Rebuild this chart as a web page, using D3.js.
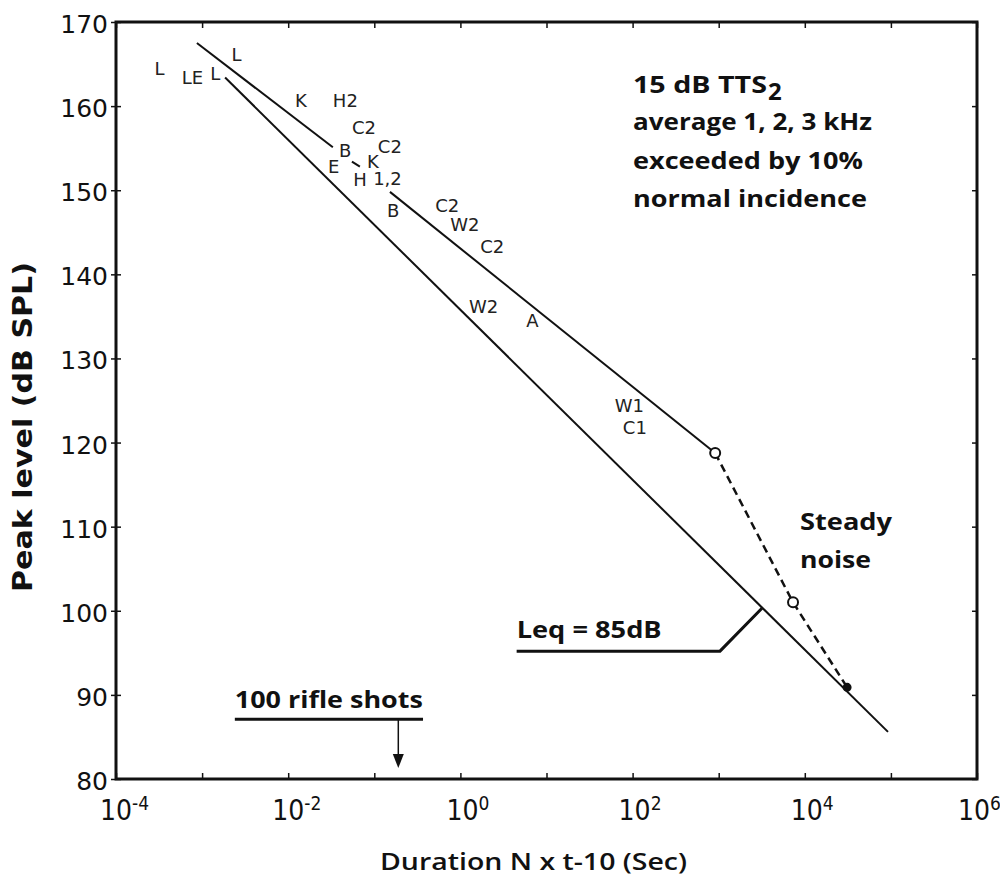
<!DOCTYPE html>
<meta charset="utf-8">
<style>

body {
  margin: 0;
  background: #fff;
}

.frame {
  fill: none;
  stroke: #111;
  stroke-width: 3px;
}

.tick line {
  stroke: #111;
  stroke-width: 1.5px;
}

.curve {
  fill: none;
  stroke: #111;
  stroke-width: 2px;
}

.dashed {
  fill: none;
  stroke: #111;
  stroke-width: 2.5px;
  stroke-dasharray: 8 5;
}

.ylab {
  font-family: "DejaVu Sans", sans-serif;
  font-size: 25px;
  fill: #111;
}

.xlab {
  font-family: "Liberation Sans Narrow", "DejaVu Sans Condensed", sans-serif;
  font-size: 28px;
  fill: #111;
}

.code {
  font-family: "DejaVu Sans", sans-serif;
  font-size: 18px;
  fill: #222;
}

.note {
  font-family: "Open Sans", sans-serif;
  font-weight: 700;
  font-size: 24px;
  fill: #111;
}

</style>
<svg width="1000" height="877"></svg>
<script src="https://cdn.jsdelivr.net/npm/d3@7"></script>
<script>

// axis ticks
var xTicks = [1e-4, 1e-3, 1e-2, 1e-1, 1e0, 1e1, 1e2, 1e3, 1e4, 1e5, 1e6];
var xLabelExps = [-4, -2, 0, 2, 4, 6];
var yTicks = [80, 90, 100, 110, 120, 130, 140, 150, 160, 170];

// criterion lines: [duration (s), peak level (dB)]
var upperShort = [[8.7e-4, 167.5], [0.033, 155.1]];
var upperStub = [[0.055, 153.4], [0.068, 152.8]];
var upperLong = [[0.152, 149.8], [910, 118.75]];
var steadyNoise = [[910, 118.75], [7300, 101.0], [31000, 90.9]];
var steadyOpen = [true, true, false];
var leqLine = [[1.85e-3, 163.4], [92500, 85.6]];

// weapon codes placed by duration / level (left, baseline)
var codes = [
  ["L", 2.8e-4, 163.7],
  ["LE", 5.8e-4, 162.6],
  ["L", 1.24e-3, 163.1],
  ["L", 2.2e-3, 165.4],
  ["K", 0.012, 159.9],
  ["H2", 0.033, 159.9],
  ["C2", 0.055, 156.7],
  ["C2", 0.11, 154.4],
  ["B", 0.039, 153.9],
  ["E", 0.029, 152.0],
  ["K", 0.082, 152.6],
  ["H", 0.057, 150.5],
  ["1,2", 0.097, 150.6],
  ["B", 0.14, 146.8],
  ["C2", 0.51, 147.4],
  ["W2", 0.76, 145.1],
  ["C2", 1.7, 142.5],
  ["W2", 1.26, 135.4],
  ["A", 5.8, 133.7],
  ["W1", 62, 123.6],
  ["C1", 77, 121.0]
];

var noteLines = ["average 1, 2, 3 kHz", "exceeded by 10%", "normal incidence"];

var svg = d3.select("svg"),
    margin = {top: 22, right: 23, bottom: 98, left: 116},
    width = +svg.attr("width") - margin.left - margin.right,
    height = +svg.attr("height") - margin.top - margin.bottom;

svg.append("rect")
    .attr("width", 1000)
    .attr("height", 877)
    .attr("fill", "#fff");

var x = d3.scaleLog()
    .domain([1e-4, 1e6])
    .range([margin.left, margin.left + width]);

var y = d3.scaleLinear()
    .domain([80, 170])
    .range([margin.top + height, margin.top]);

var line = d3.line()
    .x(function(d) { return x(d[0]); })
    .y(function(d) { return y(d[1]); });

// ticks (inward on bottom/top/right, crossing on left)
svg.append("g")
    .attr("transform", "translate(0," + y(80) + ")")
    .call(d3.axisBottom(x).tickValues(xTicks).tickSize(-6).tickFormat(""))
    .call(function(g) { g.select(".domain").remove(); });

svg.append("g")
    .attr("transform", "translate(0," + y(170) + ")")
    .call(d3.axisTop(x).tickValues(xTicks).tickSize(-6).tickFormat(""))
    .call(function(g) { g.select(".domain").remove(); });

svg.append("g")
    .attr("transform", "translate(" + x(1e6) + ",0)")
    .call(d3.axisRight(y).tickValues(yTicks).tickSize(-5).tickFormat(""))
    .call(function(g) { g.select(".domain").remove(); });

var yAxis = svg.append("g")
    .attr("transform", "translate(" + x(1e-4) + ",0)")
    .call(d3.axisLeft(y).tickValues(yTicks).tickSize(5).tickPadding(3))
    .call(function(g) { g.select(".domain").remove(); });

yAxis.selectAll(".tick line").attr("x2", 5).attr("x1", -5);
yAxis.selectAll(".tick text")
    .attr("class", "ylab")
    .attr("x", -8)
    .attr("dy", "0.42em")
    .attr("font-family", null)
    .attr("font-size", null)
    .attr("fill", null);

svg.append("rect")
    .attr("class", "frame")
    .attr("x", x(1e-4))
    .attr("y", y(170))
    .attr("width", x(1e6) - x(1e-4))
    .attr("height", y(80) - y(170));

// power-of-ten labels
var xl = svg.selectAll(".xl")
    .data(xLabelExps)
  .enter().append("text")
    .attr("class", "xlab")
    .attr("x", function(d) { return x(Math.pow(10, d)) - (d < 0 ? 16 : d > 4 ? 19 : 14); })
    .attr("y", y(80) + 41);

xl.append("tspan").text("10");
xl.append("tspan")
    .attr("dy", -10)
    .attr("font-size", "19px")
    .text(function(d) { return d < 0 ? "-" + (-d) : d; });

// axis titles
svg.append("text")
    .attr("transform", "translate(32," + 427 + ") rotate(-90)")
    .attr("text-anchor", "middle")
    .attr("textLength", 330)
    .attr("lengthAdjust", "spacingAndGlyphs")
    .style("font-family", "'DejaVu Sans', sans-serif")
    .style("font-weight", "700")
    .style("font-size", "26px")
    .style("fill", "#111")
    .text("Peak level (dB SPL)");

svg.append("text")
    .attr("x", 380)
    .attr("y", 870)
    .attr("textLength", 307)
    .attr("lengthAdjust", "spacingAndGlyphs")
    .style("font-family", "'Open Sans', sans-serif")
    .style("font-weight", "600")
    .style("font-size", "24px")
    .style("fill", "#111")
    .text("Duration N x t-10 (Sec)");

// criterion lines
[upperShort, upperStub, upperLong, leqLine].forEach(function(seg) {
  svg.append("path")
      .datum(seg)
      .attr("class", "curve")
      .attr("d", line);
});

svg.append("path")
    .datum(steadyNoise)
    .attr("class", "dashed")
    .attr("d", line);

svg.selectAll(".pt")
    .data(steadyNoise)
  .enter().append("circle")
    .attr("cx", function(d) { return x(d[0]); })
    .attr("cy", function(d) { return y(d[1]); })
    .attr("r", function(d, i) { return steadyOpen[i] ? 5 : 3.5; })
    .attr("fill", function(d, i) { return steadyOpen[i] ? "#fff" : "#111"; })
    .attr("stroke", "#111")
    .attr("stroke-width", 2);

// weapon codes
svg.selectAll(".code")
    .data(codes)
  .enter().append("text")
    .attr("class", "code")
    .attr("x", function(d) { return x(d[1]); })
    .attr("y", function(d) { return y(d[2]); })
    .text(function(d) { return d[0]; });

// criterion note
svg.append("text")
    .attr("class", "note")
    .attr("x", x(101))
    .attr("y", 93)
    .attr("textLength", 134)
    .attr("lengthAdjust", "spacingAndGlyphs")
    .text("15 dB TTS");

svg.append("text")
    .attr("class", "note")
    .attr("x", x(101) + 135)
    .attr("y", 100)
    .text("2");

var noteLengths = [239, 230, 234];
noteLines.forEach(function(t, i) {
  svg.append("text")
      .attr("class", "note")
      .attr("x", x(101))
      .attr("y", 130 + i * 38.5)
      .attr("textLength", noteLengths[i])
      .attr("lengthAdjust", "spacingAndGlyphs")
      .text(t);
});

// steady noise label
svg.append("text")
    .attr("class", "note")
    .attr("x", x(8800))
    .attr("y", y(109.6))
    .attr("textLength", 92)
    .attr("lengthAdjust", "spacingAndGlyphs")
    .text("Steady");

svg.append("text")
    .attr("class", "note")
    .attr("x", x(8800))
    .attr("y", y(105.1))
    .attr("textLength", 71)
    .attr("lengthAdjust", "spacingAndGlyphs")
    .text("noise");

// Leq annotation
svg.append("text")
    .attr("class", "note")
    .attr("x", x(4.5))
    .attr("y", y(96.8))
    .attr("textLength", 145)
    .attr("lengthAdjust", "spacingAndGlyphs")
    .text("Leq = 85dB");

svg.append("path")
    .datum([[4.5, 95.2], [1035, 95.2], [3180, 100.3]])
    .attr("fill", "none")
    .attr("stroke", "#111")
    .attr("stroke-width", 3)
    .attr("d", line);

// rifle shots annotation
svg.append("text")
    .attr("class", "note")
    .attr("x", x(2.4e-3))
    .attr("y", y(88.4))
    .attr("textLength", 188)
    .attr("lengthAdjust", "spacingAndGlyphs")
    .text("100 rifle shots");

svg.append("path")
    .datum([[2.4e-3, 87.1], [0.368, 87.1]])
    .attr("fill", "none")
    .attr("stroke", "#111")
    .attr("stroke-width", 3)
    .attr("d", line);

var ax = x(0.19), ay0 = y(87.1), ay1 = y(81.3);
svg.append("line")
    .attr("x1", ax).attr("x2", ax)
    .attr("y1", ay0).attr("y2", ay1 - 10)
    .attr("stroke", "#111")
    .attr("stroke-width", 1.5);

svg.append("path")
    .attr("d", "M" + (ax - 5.5) + "," + (ay1 - 14) + "L" + (ax + 5.5) + "," + (ay1 - 14) + "L" + ax + "," + ay1 + "Z")
    .attr("fill", "#111");

</script>
